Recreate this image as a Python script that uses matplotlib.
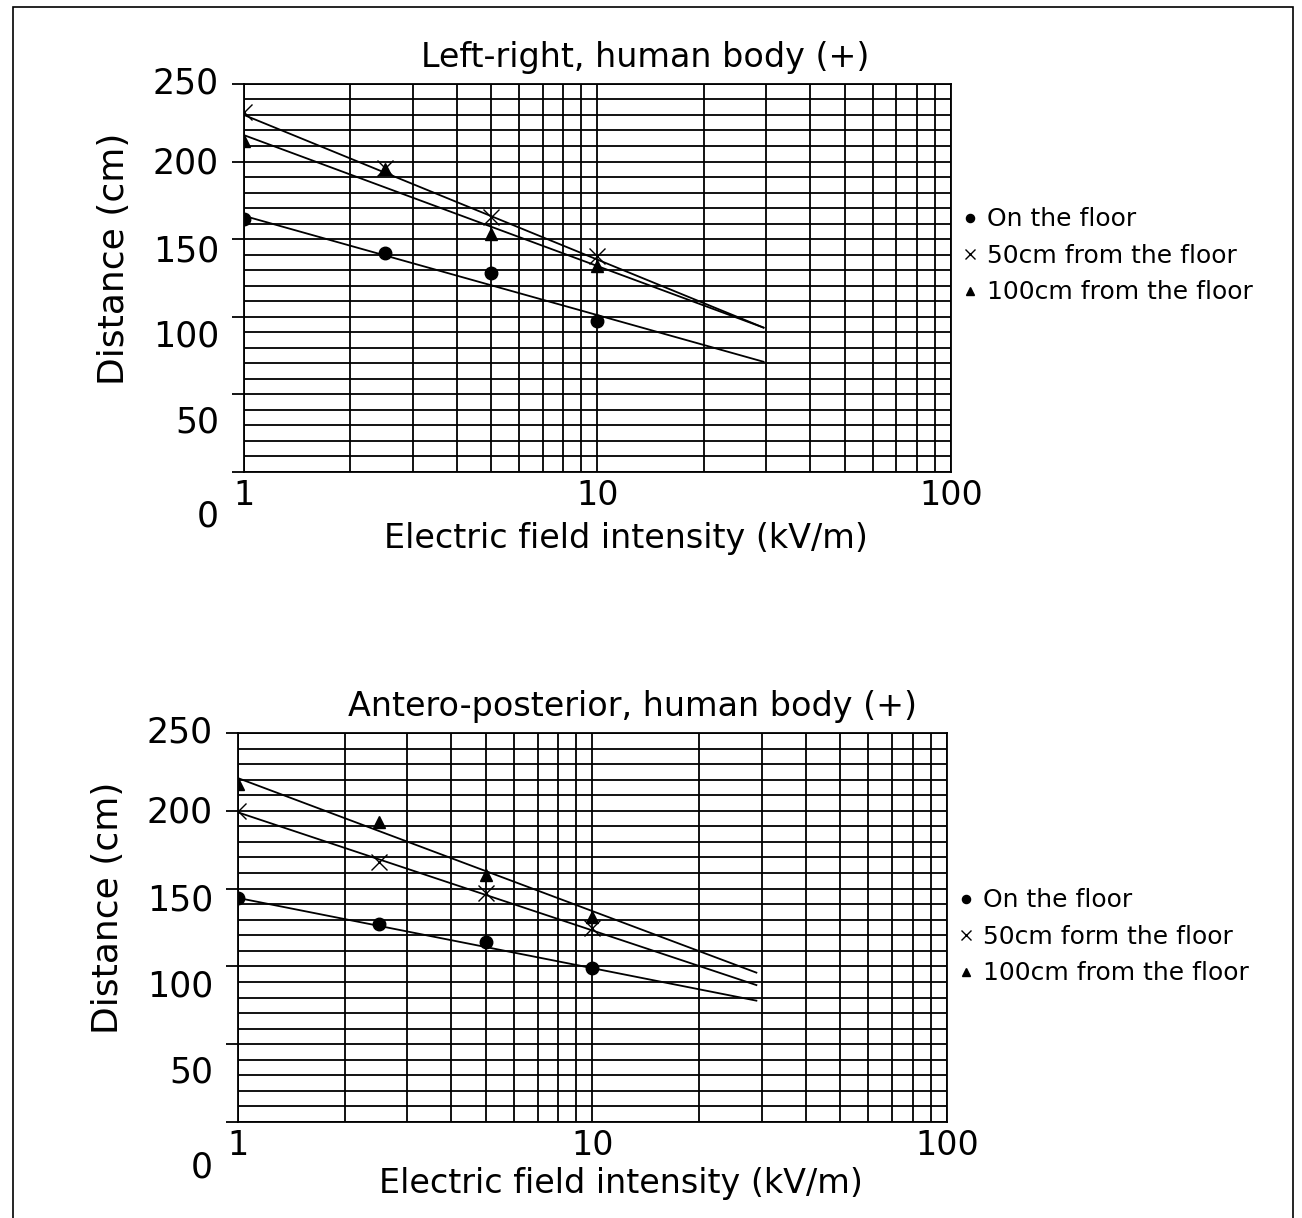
import matplotlib.pyplot as plt
import matplotlib.transforms as mtransforms
from matplotlib.patches import Rectangle
from matplotlib.ticker import FixedLocator, NullFormatter

plt.rcParams['font.family'] = ['DejaVu Sans']

# ------------------------------
# Data
# ------------------------------
field = [1, 2.5, 5, 10]                 # kV/m

lr_floor = [163, 141, 128, 97]
lr_50 = [232, 196, 164, 139]
lr_100 = [213, 195, 153, 133]

lr_fit_x = [1, 29.5]
lr_floor_fit = [165, 71]
lr_50_fit = [230, 93]
lr_100_fit = [217, 93]

ap_floor = [144, 127, 116, 99]
ap_50 = [200, 167, 147, 125]
ap_100 = [217, 193, 159, 132]

ap_fit_x = [1, 29]
ap_floor_fit = [144, 78]
ap_50_fit = [199, 88]
ap_100_fit = [221, 96]

y_ticks = [0, 50, 100, 150, 200, 250]
x_ticks = [1, 10, 100]
x_tick_labels = ["1", "10", "100"]

lr_labels = ["On the floor", "50cm from the floor", "100cm from the floor"]
ap_labels = ["On the floor", "50cm form the floor", "100cm from the floor"]

# label drift (pixels downward) seen in the original scan
y_label_drop = [45, 28, 20, 12, 2, 0]

GRID_LW = 1.3


def draw_panel(fig, rect, title, title_x, floor, fifty, hundred, fit_x, fits, labels,
               legend_y, xlabel_y):
    ax = fig.add_axes(rect)
    ax.set_xscale("log")
    ax.set_xlim(1, 100)
    ax.set_ylim(0, 250)

    minors = [m * d for d in (1, 10) for m in range(2, 10)]
    ax.xaxis.set_major_locator(FixedLocator(x_ticks))
    ax.xaxis.set_minor_locator(FixedLocator(minors))
    ax.xaxis.set_minor_formatter(NullFormatter())
    ax.set_xticklabels(x_tick_labels, fontsize=24)
    ax.yaxis.set_major_locator(FixedLocator(y_ticks))
    ax.yaxis.set_minor_locator(FixedLocator(range(0, 251, 10)))
    ax.set_yticklabels([])

    ax.grid(which="both", color="black", lw=GRID_LW)
    ax.tick_params(axis="x", which="both", length=0, pad=5)
    ax.tick_params(axis="y", which="major", length=9, width=GRID_LW, direction="out")
    ax.tick_params(axis="y", which="minor", length=0)
    for sp in ax.spines.values():
        sp.set_linewidth(GRID_LW)

    # y tick labels drawn by hand so they can drift like the scan
    base = mtransforms.blended_transform_factory(ax.transAxes, ax.transData)
    for v, drop in zip(y_ticks, y_label_drop):
        tr = mtransforms.offset_copy(base, fig=fig, x=-25, y=-drop, units="dots")
        ax.text(0, v, str(v), transform=tr, ha="right", va="center", fontsize=25)

    # fitted lines
    for f in fits:
        ax.plot(fit_x, f, color="black", lw=1.3, zorder=3)

    # measured points
    ax.plot(field, floor, "o", color="black", ms=9, label=labels[0], zorder=4)
    ax.plot(field, fifty, "x", color="black", ms=11, mew=1.0, label=labels[1], zorder=4)
    ax.plot(field, hundred, "^", color="black", ms=9, label=labels[2], zorder=4)

    ax.set_title(title, fontsize=24, pad=12, x=title_x)
    ax.set_xlabel("Electric field intensity (kV/m)", fontsize=24)
    ax.xaxis.set_label_coords(0.54, xlabel_y)
    ax.set_ylabel("Distance (cm)", fontsize=26)
    ax.yaxis.set_label_coords(-0.16, 0.55)

    ax.legend(loc="center left", bbox_to_anchor=(1.0, legend_y), frameon=False,
              fontsize=18, handlelength=0.5, handletextpad=0.45, markerscale=0.65,
              labelspacing=0.5, borderaxespad=0.1)
    return ax


def main():
    fig = plt.figure(figsize=(13.02, 12.18), dpi=100)

    draw_panel(fig, [0.1874, 0.6125, 0.5430, 0.3186],
               "Left-right, human body (+)", 0.567,
               lr_floor, lr_50, lr_100, lr_fit_x,
               [lr_floor_fit, lr_50_fit, lr_100_fit], lr_labels, 0.557, -0.13)

    draw_panel(fig, [0.1828, 0.0788, 0.5445, 0.3194],
               "Antero-posterior, human body (+)", 0.556,
               ap_floor, ap_50, ap_100, ap_fit_x,
               [ap_floor_fit, ap_50_fit, ap_100_fit], ap_labels, 0.476, -0.115)

    # outer frame of the page (open at the bottom edge)
    fig.patches.append(Rectangle((0.010, -0.02), 0.983, 1.0143, transform=fig.transFigure,
                                 fill=False, edgecolor="black", lw=1.2))

    fig.savefig("out.png", dpi=100)


if __name__ == "__main__":
    main()
